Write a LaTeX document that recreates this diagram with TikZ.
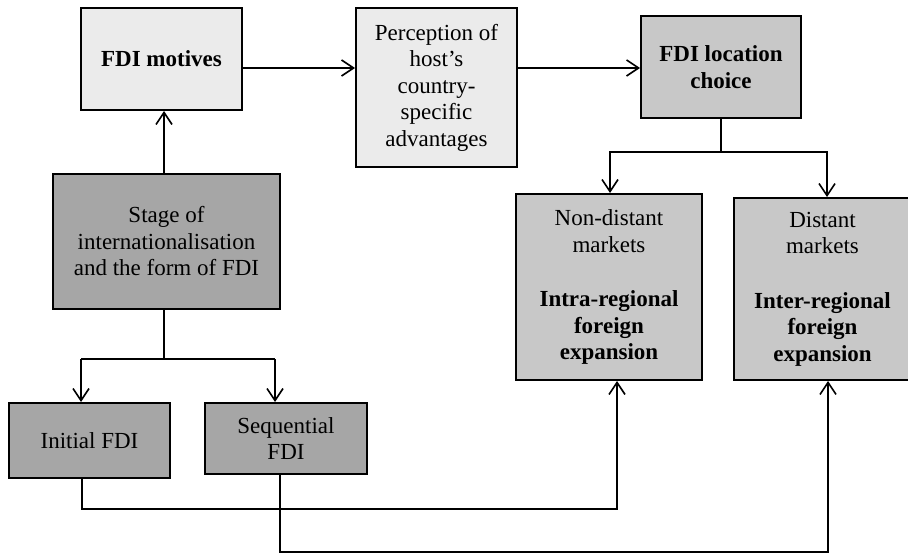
\documentclass[tikz,border=0pt]{standalone}
\usepackage{fontspec}
\setmainfont{Liberation Serif}
\usetikzlibrary{arrows.meta}
\definecolor{paleGray}{HTML}{EBEBEB}
\definecolor{midGray}{HTML}{C8C8C8}
\definecolor{darkGray}{HTML}{A6A6A6}

\begin{document}
\begin{tikzpicture}[x=1pt,y=-1pt,
  box/.style={draw=black, line width=2pt, anchor=north west, inner sep=0pt,
    align=center, font=\fontsize{23}{26.5}\selectfont},
  link/.style={line width=1.6pt},
  arr/.style={link, -{Straight Barb[length=12pt,width=16pt]}},
  trunk/.style={line width=2.6pt}]
\useasboundingbox (0,0) rectangle (908,556);

% boxes
\node[box, fill=paleGray, minimum width=161pt, minimum height=102pt] (motives) at (80,7)
  {\textbf{FDI motives}};
\node[box, fill=paleGray, minimum width=161pt, minimum height=159pt] (perc) at (355,7)
  {Perception of\\host’s\\country-\\specific\\advantages};
\node[box, fill=midGray, minimum width=160pt, minimum height=102pt] (loc) at (640,15)
  {\textbf{FDI location}\\\textbf{choice}};
\node[box, fill=darkGray, minimum width=227pt, minimum height=135pt] (stage) at (52,173)
  {Stage of\\internationalisation\\and the form of FDI};
\node[box, fill=midGray, minimum width=186pt, minimum height=186pt] (nondist) at (515,193)
  {Non-distant\\markets\\[28pt]\textbf{Intra-regional}\\\textbf{foreign}\\\textbf{expansion}};
\node[box, fill=midGray, minimum width=177pt, minimum height=182pt] (dist) at (733,197)
  {Distant\\markets\\[28pt]\textbf{Inter-regional}\\\textbf{foreign}\\\textbf{expansion}};
\node[box, fill=darkGray, minimum width=161pt, minimum height=75pt] (initial) at (8,402)
  {Initial FDI};
\node[box, fill=darkGray, minimum width=162pt, minimum height=71pt] (seq) at (204,402)
  {Sequential\\FDI};

% helper coordinates for connector routes
\coordinate (yA) at (0,68);
\coordinate (xS) at (164,0);
\coordinate (sL) at (0,152);
\coordinate (xN) at (610,0);
\coordinate (xD) at (827,0);
\coordinate (sS) at (0,359);
\coordinate (xI) at (81,0);
\coordinate (xQ) at (275,0);
\coordinate (b1) at (82,509);
\coordinate (b2) at (280,552);
\coordinate (xN2) at (617,0);
\coordinate (xD2) at (828,0);

% top row
\draw[arr] (motives.east |- yA) -- (perc.west |- yA);
\draw[arr] (perc.east |- yA) -- (loc.west |- yA);
\draw[arr] (stage.north -| xS) -- (motives.south -| xS);

% location split
\draw[link] (loc.south) -- (loc.south |- sL);
\draw[arr] (loc.south |- sL) -| (nondist.north -| xN);
\draw[arr] (loc.south |- sL) -| (dist.north -| xD);

% stage split
\draw[trunk] (stage.south -| xS) -- (xS |- sS);
\draw[trunk] (xI |- sS) -- (xQ |- sS);
\draw[arr] (xI |- sS) -- (initial.north -| xI);
\draw[arr] (xQ |- sS) -- (seq.north -| xQ);

% bottom routes
\draw[arr] (initial.south -| b1) -- (b1) -| (nondist.south -| xN2);
\draw[arr] (seq.south -| b2) -- (b2) -| (dist.south -| xD2);
\end{tikzpicture}
\end{document}
